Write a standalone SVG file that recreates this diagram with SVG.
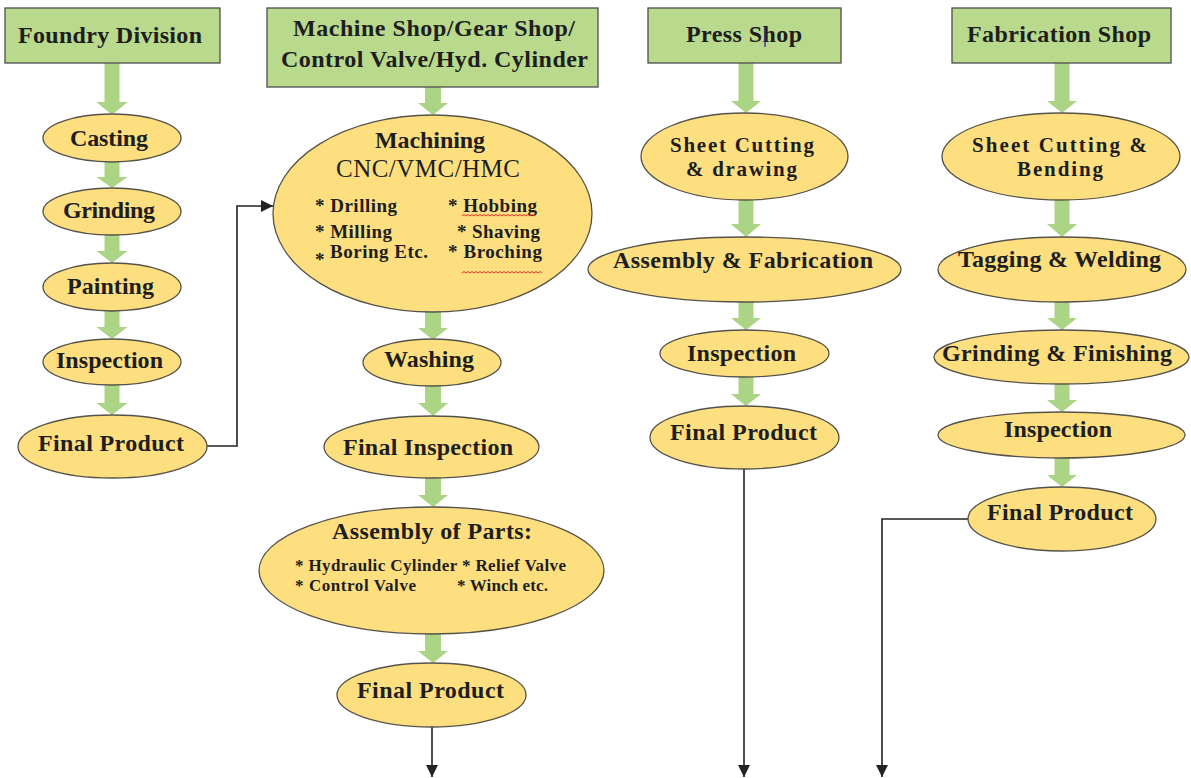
<svg xmlns="http://www.w3.org/2000/svg" width="1191" height="778" viewBox="0 0 1191 778">
  <style>
    .box { fill: #b9d98c; stroke: #4d4d4d; stroke-width: 1.3; }
    .oval { fill: #fddf80; stroke: #55524a; stroke-width: 1.3; }
    .flow { fill: #abd584; }
    .t { font-family: "Liberation Serif", "Times New Roman", serif; font-weight: bold; font-size: 24px; fill: #1e1e1e; }
    .t2 { font-family: "Liberation Serif", "Times New Roman", serif; font-weight: bold; font-size: 21px; fill: #1e1e1e; }
    .tr { font-family: "Liberation Serif", "Times New Roman", serif; font-weight: normal; font-size: 25px; fill: #1e1e1e; }
    .s { font-family: "Liberation Serif", "Times New Roman", serif; font-weight: bold; font-size: 19px; fill: #1e1e1e; }
    .xs { font-family: "Liberation Serif", "Times New Roman", serif; font-weight: bold; font-size: 17px; fill: #1e1e1e; }
    .link { fill: none; stroke: #222; stroke-width: 1.6; }
    .squiggle { fill: none; stroke: #e0302a; stroke-width: 1; }
  </style>
  <defs>
    <marker id="tip" viewBox="0 0 10 10" refX="10" refY="5" markerWidth="12" markerHeight="12" markerUnits="userSpaceOnUse" orient="auto">
      <path d="M0,0 L10,5 L0,10 Z" fill="#222"/>
    </marker>
  </defs>
  <rect width="1191" height="778" fill="#ffffff"/>

  <!-- wide green flow arrows between steps -->
  <g id="flow-arrows" class="flow">
    <!-- foundry column, x = 112 -->
    <path d="M104.5,63 H119.5 V102 H127.5 L112,115 L96.5,102 H104.5 Z"/>
    <path d="M104.5,162 H119.5 V177 H127.5 L112,188 L96.5,177 H104.5 Z"/>
    <path d="M104.5,235 H119.5 V251 H127.5 L112,263 L96.5,251 H104.5 Z"/>
    <path d="M104.5,311 H119.5 V327 H127.5 L112,339 L96.5,327 H104.5 Z"/>
    <path d="M104.5,385 H119.5 V403 H127.5 L112,415 L96.5,403 H104.5 Z"/>
    <!-- machine shop column, x = 433 -->
    <path d="M425,87 H441 V103 H448 L433,115 L418,103 H425 Z"/>
    <path d="M425,312 H441 V328 H448 L433,340 L418,328 H425 Z"/>
    <path d="M425,386 H441 V403 H448 L433,416 L418,403 H425 Z"/>
    <path d="M425,478 H441 V495 H448 L433,507 L418,495 H425 Z"/>
    <path d="M425,634 H441 V651 H448 L433,663 L418,651 H425 Z"/>
    <!-- press shop column, x = 746 -->
    <path d="M738.5,63 H753.5 V101 H761 L746,113 L731,101 H738.5 Z"/>
    <path d="M738.5,200 H753.5 V224 H761 L746,237 L731,224 H738.5 Z"/>
    <path d="M738.5,302 H753.5 V318 H761 L746,330 L731,318 H738.5 Z"/>
    <path d="M738.5,377 H753.5 V394 H761 L746,406 L731,394 H738.5 Z"/>
    <!-- fabrication column, x = 1062 -->
    <path d="M1054.5,63 H1069.5 V101 H1077 L1062,113 L1047,101 H1054.5 Z"/>
    <path d="M1054.5,200 H1069.5 V224 H1077 L1062,237 L1047,224 H1054.5 Z"/>
    <path d="M1054.5,302 H1069.5 V318 H1077 L1062,330 L1047,318 H1054.5 Z"/>
    <path d="M1054.5,384 H1069.5 V400 H1077 L1062,412 L1047,400 H1054.5 Z"/>
    <path d="M1054.5,458 H1069.5 V475 H1077 L1062,487 L1047,475 H1054.5 Z"/>
  </g>

  <!-- thin black connectors -->
  <g id="connectors">
    <path class="link" d="M207,446 H237 V206 H273" marker-end="url(#tip)"/>
    <path class="link" d="M432,727 V777" marker-end="url(#tip)"/>
    <path class="link" d="M744,469 V777" marker-end="url(#tip)"/>
    <path class="link" d="M968,519 H882 V777" marker-end="url(#tip)"/>
  </g>

  <!-- Foundry Division column -->
  <g id="foundry-division">
    <rect class="box" x="5" y="8" width="215" height="55"/>
    <text class="t" x="18" y="43" textLength="184">Foundry Division</text>
  </g>
  <g id="foundry-casting">
    <ellipse class="oval" cx="112" cy="138" rx="69" ry="24"/>
    <text class="t" x="70" y="146" textLength="78">Casting</text>
  </g>
  <g id="foundry-grinding">
    <ellipse class="oval" cx="112" cy="211.5" rx="69" ry="23.5"/>
    <text class="t" x="63" y="218" textLength="92">Grinding</text>
  </g>
  <g id="foundry-painting">
    <ellipse class="oval" cx="112" cy="287" rx="69" ry="24"/>
    <text class="t" x="67" y="294" textLength="87">Painting</text>
  </g>
  <g id="foundry-inspection">
    <ellipse class="oval" cx="112" cy="362" rx="69" ry="23"/>
    <text class="t" x="56" y="368" textLength="107">Inspection</text>
  </g>
  <g id="foundry-final-product">
    <ellipse class="oval" cx="112.5" cy="446.5" rx="94.5" ry="31.5"/>
    <text class="t" x="38" y="451" textLength="146">Final Product</text>
  </g>

  <!-- Machine Shop column -->
  <g id="machine-shop">
    <rect class="box" x="267" y="8" width="331" height="79"/>
    <text class="t" x="293" y="36" textLength="282">Machine Shop/Gear Shop/</text>
    <text class="t" x="281" y="67" textLength="307">Control Valve/Hyd. Cylinder</text>
  </g>
  <g id="machining">
    <ellipse class="oval" cx="432.5" cy="213.5" rx="159.5" ry="98.5"/>
    <text class="t" x="375" y="148" textLength="110">Machining</text>
    <text class="tr" x="336" y="177" textLength="184">CNC/VMC/HMC</text>
    <text class="s" x="315" y="212" textLength="82">* Drilling</text>
    <text class="s" x="448" y="212" textLength="89">* Hobbing</text>
    <text class="s" x="315" y="238" textLength="77">* Milling</text>
    <text class="s" x="457" y="238" textLength="83">* Shaving</text>
    <text class="s" x="315" y="266">*</text>
    <text class="s" x="330" y="258" textLength="98">Boring Etc.</text>
    <text class="s" x="448" y="258" textLength="94">* Broching</text>
    <path class="squiggle" d="M462,216 l2,-1.5 l2,1.5 l2,-1.5 l2,1.5 l2,-1.5 l2,1.5 l2,-1.5 l2,1.5 l2,-1.5 l2,1.5 l2,-1.5 l2,1.5 l2,-1.5 l2,1.5 l2,-1.5 l2,1.5 l2,-1.5 l2,1.5 l2,-1.5 l2,1.5 l2,-1.5 l2,1.5 l2,-1.5 l2,1.5 l2,-1.5 l2,1.5 l2,-1.5 l2,1.5 l2,-1.5 l2,1.5 l2,-1.5 l2,1.5 l2,-1.5 l2,1.5 l2,-1.5 l2,1.5 l2,-1.5"/>
    <path class="squiggle" d="M462,273 l2,-1.5 l2,1.5 l2,-1.5 l2,1.5 l2,-1.5 l2,1.5 l2,-1.5 l2,1.5 l2,-1.5 l2,1.5 l2,-1.5 l2,1.5 l2,-1.5 l2,1.5 l2,-1.5 l2,1.5 l2,-1.5 l2,1.5 l2,-1.5 l2,1.5 l2,-1.5 l2,1.5 l2,-1.5 l2,1.5 l2,-1.5 l2,1.5 l2,-1.5 l2,1.5 l2,-1.5 l2,1.5 l2,-1.5 l2,1.5 l2,-1.5 l2,1.5 l2,-1.5 l2,1.5 l2,-1.5 l2,1.5 l2,-1.5 l2,1.5"/>
  </g>
  <g id="washing">
    <ellipse class="oval" cx="432" cy="362.5" rx="69" ry="23.5"/>
    <text class="t" x="384" y="367" textLength="90">Washing</text>
  </g>
  <g id="final-inspection">
    <ellipse class="oval" cx="431.5" cy="447" rx="107.5" ry="31"/>
    <text class="t" x="343" y="455" textLength="170">Final Inspection</text>
  </g>
  <g id="assembly-of-parts">
    <ellipse class="oval" cx="431.5" cy="570.5" rx="172.5" ry="63.5"/>
    <text class="t" x="332" y="539" textLength="200">Assembly  of Parts:</text>
    <text class="xs" x="295" y="571" textLength="271">* Hydraulic Cylinder * Relief Valve</text>
    <text class="xs" x="295" y="591" textLength="121">* Control Valve</text>
    <text class="xs" x="457" y="591" textLength="91">* Winch etc.</text>
  </g>
  <g id="machine-final-product">
    <ellipse class="oval" cx="431.5" cy="695" rx="94.5" ry="32"/>
    <text class="t" x="357" y="698" textLength="147">Final Product</text>
  </g>

  <!-- Press Shop column -->
  <g id="press-shop">
    <rect class="box" x="648" y="8" width="193" height="55"/>
    <text class="t" x="686" y="42" textLength="116">Press Shop</text>
    <line x1="765" y1="27" x2="765" y2="47" stroke="#3a2a8a" stroke-width="1.3"/>
  </g>
  <g id="press-sheet-cutting">
    <ellipse class="oval" cx="744.5" cy="156.5" rx="103.5" ry="43.5"/>
    <text class="t2" x="670" y="152" textLength="144">Sheet Cutting</text>
    <text class="t2" x="686" y="176" textLength="111">&amp; drawing</text>
  </g>
  <g id="press-assembly">
    <ellipse class="oval" cx="744.5" cy="269.5" rx="156.5" ry="32.5"/>
    <text class="t" x="613" y="268" textLength="260">Assembly  &amp; Fabrication</text>
  </g>
  <g id="press-inspection">
    <ellipse class="oval" cx="744.5" cy="353.5" rx="84.5" ry="23.5"/>
    <text class="t" x="687" y="361" textLength="109">Inspection</text>
  </g>
  <g id="press-final-product">
    <ellipse class="oval" cx="744.5" cy="437.5" rx="94.5" ry="31.5"/>
    <text class="t" x="670" y="440" textLength="147">Final Product</text>
  </g>

  <!-- Fabrication Shop column -->
  <g id="fabrication-shop">
    <rect class="box" x="952" y="8" width="219" height="55"/>
    <text class="t" x="967" y="42" textLength="184">Fabrication Shop</text>
  </g>
  <g id="fab-sheet-cutting">
    <ellipse class="oval" cx="1061" cy="156.5" rx="119" ry="43.5"/>
    <text class="t2" x="972" y="152" textLength="175">Sheet Cutting  &amp;</text>
    <text class="t2" x="1017" y="176" textLength="86">Bending</text>
  </g>
  <g id="fab-tagging-welding">
    <ellipse class="oval" cx="1062" cy="269.5" rx="124" ry="32.5"/>
    <text class="t" x="958" y="267" textLength="203">Tagging &amp; Welding</text>
  </g>
  <g id="fab-grinding-finishing">
    <ellipse class="oval" cx="1061.5" cy="357" rx="127.5" ry="27"/>
    <text class="t" x="942" y="361" textLength="230">Grinding  &amp; Finishing</text>
  </g>
  <g id="fab-inspection">
    <ellipse class="oval" cx="1061.5" cy="435" rx="123.5" ry="23"/>
    <text class="t" x="1004" y="437" textLength="108">Inspection</text>
  </g>
  <g id="fab-final-product">
    <ellipse class="oval" cx="1062" cy="519" rx="94" ry="32"/>
    <text class="t" x="987" y="520" textLength="146">Final Product</text>
  </g>
</svg>
